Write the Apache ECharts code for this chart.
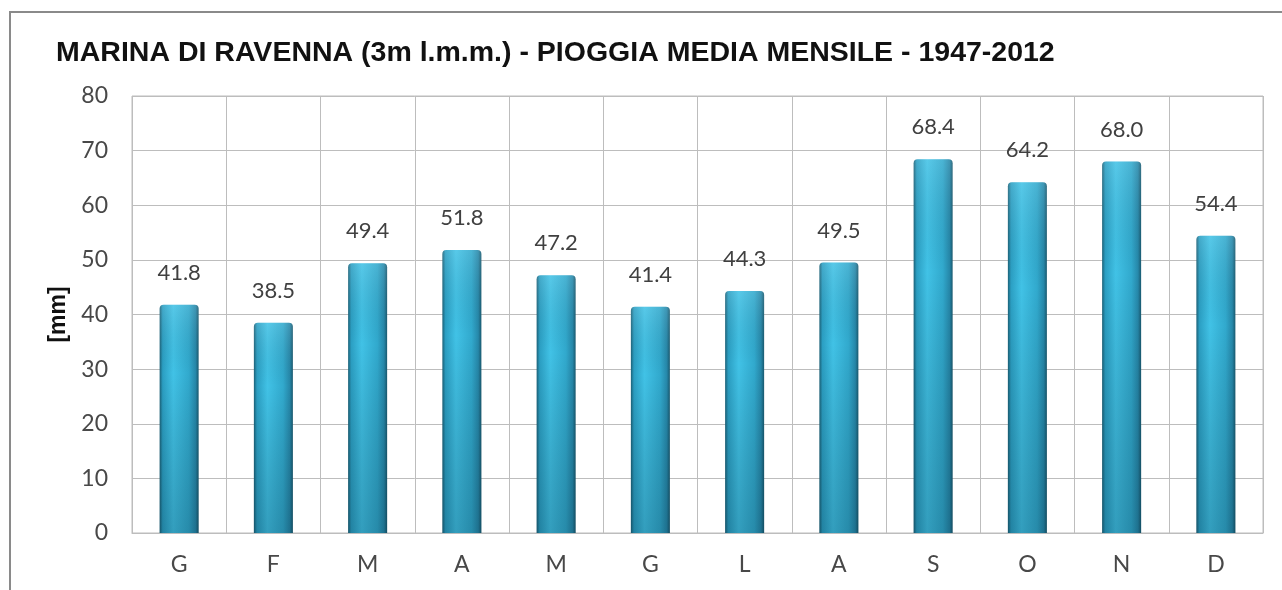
<!DOCTYPE html>
<html>
<head>
<meta charset="utf-8">
<script src="https://cdn.jsdelivr.net/npm/echarts@6/dist/echarts.min.js"></script>
<style>
  html, body { margin: 0; padding: 0; background: #fff; }
  #chart { width: 1282px; height: 590px; }
</style>
</head>
<body>
<div id="chart"></div>
<script>
// mesi (iniziali)
var months = ['G', 'F', 'M', 'A', 'M', 'G', 'L', 'A', 'S', 'O', 'N', 'D']
// pioggia media mensile [mm]
var rain = [41.8, 38.5, 49.4, 51.8, 47.2, 41.4, 44.3, 49.5, 68.4, 64.2, 68.0, 54.4]
var yTicks = { min: 0, max: 80, step: 10 }

var chart = echarts.init(document.getElementById('chart'))

// colore della barra, effetto cilindro come in Excel
var barColor = new echarts.graphic.LinearGradient(0, 0, 1, 0, [
  { offset: 0, color: '#1b6279' },
  { offset: 0.08, color: '#2b9fc3' },
  { offset: 0.35, color: '#41c2e6' },
  { offset: 0.75, color: '#31a9cd' },
  { offset: 0.92, color: '#2688aa' },
  { offset: 1, color: '#195a70' }
])
// ombra verticale sovrapposta (più scuro verso il basso)
var shade = new echarts.graphic.LinearGradient(0, 0, 0, 1, [
  { offset: 0, color: 'rgba(255,255,255,0.12)' },
  { offset: 0.3, color: 'rgba(0,0,0,0)' },
  { offset: 1, color: 'rgba(0,30,45,0.22)' }
])

chart.setOption({
  animation: false,
  title: {
    text: 'MARINA DI RAVENNA (3m l.m.m.) - PIOGGIA MEDIA MENSILE - 1947-2012',
    left: 51,
    top: 34,
    textStyle: {
      fontFamily: 'Liberation Sans',
      fontWeight: 'bold',
      fontSize: 28.5,
      color: '#111'
    }
  },
  graphic: [
    {
      // cornice del grafico
      type: 'rect',
      shape: { x: 10, y: 12, width: 1290, height: 600 },
      style: { fill: 'none', stroke: '#8a8a8a', lineWidth: 2 }
    }
  ],
  grid: {
    left: 132,
    top: 96,
    right: 19,
    bottom: 57,
    show: true,
    borderColor: '#bdbdbd',
    borderWidth: 1
  },
  xAxis: {
    type: 'category',
    data: months,
    axisTick: { show: false },
    axisLine: { lineStyle: { color: '#bdbdbd' } },
    axisLabel: {
      color: '#484848',
      fontFamily: 'Lato',
      fontSize: 23,
      margin: 20
    },
    splitLine: { show: true, lineStyle: { color: '#bdbdbd' } }
  },
  yAxis: {
    type: 'value',
    min: yTicks.min,
    max: yTicks.max,
    interval: yTicks.step,
    name: '[mm]',
    nameLocation: 'middle',
    nameGap: 60,
    nameTextStyle: {
      fontFamily: 'Liberation Sans',
      fontWeight: 'bold',
      fontSize: 23,
      color: '#111'
    },
    axisLabel: {
      color: '#484848',
      fontFamily: 'Lato',
      fontSize: 23,
      margin: 24
    },
    axisLine: { show: false },
    axisTick: { show: false },
    splitLine: { lineStyle: { color: '#bdbdbd' } }
  },
  series: [
    {
      name: 'pioggia',
      type: 'bar',
      data: rain,
      barWidth: 39,
      itemStyle: {
        color: barColor,
        borderRadius: [4, 4, 0, 0]
      },
      label: {
        show: true,
        position: 'top',
        distance: 21,
        color: '#404040',
        fontFamily: 'Lato',
        fontSize: 22,
        formatter: function (p) {
          return p.value.toFixed(1)
        }
      }
    },
    {
      name: 'ombra',
      type: 'bar',
      data: rain,
      barWidth: 39,
      barGap: '-100%',
      silent: true,
      itemStyle: {
        color: shade,
        borderRadius: [4, 4, 0, 0]
      }
    }
  ]
})
</script>
</body>
</html>
